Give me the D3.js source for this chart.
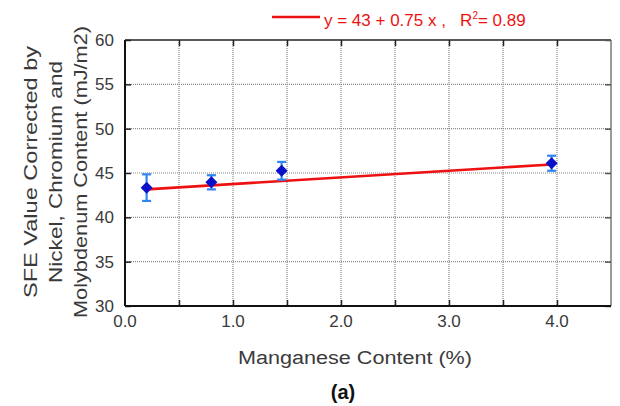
<!DOCTYPE html>
<html>
<head>
<meta charset="utf-8">
<script src="https://cdn.jsdelivr.net/npm/d3@7"></script>
<style>
  html, body { margin: 0; padding: 0; background: #fff; }
  svg { display: block; }
  text { font-family: "Liberation Sans", Arial, sans-serif; }
</style>
</head>
<body>
<svg id="chart" width="620" height="406"></svg>
<script>
// Manganese content (%) and corrected stacking-fault energy (mJ/m2)
const manganese = [0.2, 0.8, 1.45, 3.95];
const sfeValue  = [43.35, 43.95, 45.25, 46.1];
const sfeError  = [1.5, 0.8, 1.0, 0.85];

// Linear fit shown in the legend
const fitIntercept = 43;
const fitSlope = 0.75;
const fitR2 = 0.89;

const xTicks = [0, 1, 2, 3, 4];
const xGrid = [0.5, 1, 1.5, 2, 2.5, 3, 3.5, 4];
const yTicks = [30, 35, 40, 45, 50, 55, 60];

const plot = { left: 125, right: 611, top: 40, bottom: 306 };

const svg = d3.select("#chart");
const x = d3.scaleLinear().domain([0, 4.5]).range([plot.left, plot.right]);
const y = d3.scaleLinear().domain([30, 60]).range([plot.bottom, plot.top]);

const textColor = "#3a3a3a";

// dotted grid
const grid = svg.append("g");
grid.selectAll("line.vx").data(xGrid).join("line")
  .attr("x1", d => x(d)).attr("x2", d => x(d))
  .attr("y1", plot.top).attr("y2", plot.bottom)
  .attr("stroke", "#8a8a8a").attr("stroke-width", 1.2).attr("stroke-dasharray", "1,1");
grid.selectAll("line.hy").data(yTicks.slice(1, -1)).join("line")
  .attr("x1", plot.left).attr("x2", plot.right)
  .attr("y1", d => y(d)).attr("y2", d => y(d))
  .attr("stroke", "#8a8a8a").attr("stroke-width", 1.2).attr("stroke-dasharray", "1,1");

// frame
svg.append("line").attr("x1", plot.left).attr("x2", plot.right).attr("y1", plot.top).attr("y2", plot.top)
  .attr("stroke", "#222").attr("stroke-width", 1.5);
svg.append("line").attr("x1", plot.right).attr("x2", plot.right).attr("y1", plot.top).attr("y2", plot.bottom)
  .attr("stroke", "#7a7a7a").attr("stroke-width", 1.5);

// axes with inner ticks
const xAxisBottom = d3.axisBottom(x).tickValues(xGrid).tickSize(-6).tickFormat("");
const xAxisTop = d3.axisTop(x).tickValues(xGrid).tickSize(-6).tickFormat("");
const yAxisLeft = d3.axisLeft(y).tickValues(yTicks).tickSize(-6).tickFormat("");
const yAxisRight = d3.axisRight(y).tickValues(yTicks).tickSize(-6).tickFormat("");

function styleAxis(g, color) {
  g.select(".domain").remove();
  g.selectAll(".tick line").attr("stroke", color).attr("stroke-width", 1.5);
}
svg.append("g").attr("transform", `translate(0,${plot.bottom})`).call(xAxisBottom).call(g => styleAxis(g, "#222"));
svg.append("g").attr("transform", `translate(0,${plot.top})`).call(xAxisTop).call(g => styleAxis(g, "#222"));
svg.append("g").attr("transform", `translate(${plot.left},0)`).call(yAxisLeft).call(g => styleAxis(g, "#222"));
svg.append("g").attr("transform", `translate(${plot.right},0)`).call(yAxisRight).call(g => styleAxis(g, "#555"));

svg.append("line").attr("x1", plot.left).attr("x2", plot.left).attr("y1", plot.top).attr("y2", plot.bottom)
  .attr("stroke", "#111").attr("stroke-width", 2);
svg.append("line").attr("x1", plot.left).attr("x2", plot.right).attr("y1", plot.bottom).attr("y2", plot.bottom)
  .attr("stroke", "#111").attr("stroke-width", 2);

// tick labels
svg.append("g").selectAll("text").data(xTicks).join("text")
  .attr("x", d => x(d)).attr("y", 327)
  .attr("text-anchor", "middle").attr("font-size", 17).attr("fill", textColor)
  .text(d => d3.format(".1f")(d));
svg.append("g").selectAll("text").data(yTicks).join("text")
  .attr("x", 114).attr("y", d => y(d) + 6)
  .attr("text-anchor", "end").attr("font-size", 17).attr("fill", textColor)
  .text(d => d);

// axis titles
svg.append("text").attr("x", 355).attr("y", 364).attr("text-anchor", "middle")
  .attr("font-size", 18).attr("fill", textColor)
  .attr("textLength", 234).attr("lengthAdjust", "spacingAndGlyphs")
  .text("Manganese Content (%)");

const yTitle = ["SFE Value Corrected by", "Nickel, Chromium and", "Molybdenum Content (mJ/m2)"];
const yTitleLen = [252, 222, 292];
svg.append("g").selectAll("text").data(yTitle).join("text")
  .attr("transform", (d, i) => `translate(${37 + i * 25},172) rotate(-90)`)
  .attr("text-anchor", "middle").attr("font-size", 18).attr("fill", textColor)
  .attr("textLength", (d, i) => yTitleLen[i]).attr("lengthAdjust", "spacingAndGlyphs")
  .text(d => d);

svg.append("text").attr("x", 343).attr("y", 399).attr("text-anchor", "middle")
  .attr("font-family", "Liberation Serif, Times New Roman, serif")
  .attr("font-weight", "bold").attr("font-size", 20).attr("fill", "#111")
  .text("(a)");

// fitted line
const fitX = d3.extent(manganese);
svg.append("line")
  .attr("x1", x(fitX[0])).attr("y1", y(fitIntercept + fitSlope * fitX[0]))
  .attr("x2", x(fitX[1])).attr("y2", y(fitIntercept + fitSlope * fitX[1]))
  .attr("stroke", "#ee1111").attr("stroke-width", 2.6);

// error bars
const pts = manganese.map((m, i) => ({ m, v: sfeValue[i], e: sfeError[i] }));
const eb = svg.append("g").attr("stroke", "#2f86f0").attr("stroke-width", 2.2);
eb.selectAll("line.v").data(pts).join("line")
  .attr("x1", d => x(d.m)).attr("x2", d => x(d.m))
  .attr("y1", d => y(d.v - d.e)).attr("y2", d => y(d.v + d.e));
eb.selectAll("line.top").data(pts).join("line")
  .attr("x1", d => x(d.m) - 4.5).attr("x2", d => x(d.m) + 4.5)
  .attr("y1", d => y(d.v + d.e)).attr("y2", d => y(d.v + d.e));
eb.selectAll("line.bot").data(pts).join("line")
  .attr("x1", d => x(d.m) - 4.5).attr("x2", d => x(d.m) + 4.5)
  .attr("y1", d => y(d.v - d.e)).attr("y2", d => y(d.v - d.e));

// markers: filled square diamonds
svg.append("g").selectAll("path").data(pts).join("path")
  .attr("transform", d => `translate(${x(d.m)},${y(d.v)}) rotate(45)`)
  .attr("d", d3.symbol(d3.symbolSquare, 72))
  .attr("fill", "#0a10c8");

// legend
svg.append("line").attr("x1", 272).attr("x2", 320).attr("y1", 17).attr("y2", 17)
  .attr("stroke", "#ee1111").attr("stroke-width", 2.6);
const leg = svg.append("text").attr("x", 324).attr("y", 26).attr("font-size", 17)
  .attr("fill", "#ee1111").style("white-space", "pre");
leg.append("tspan").text(`y = ${fitIntercept} + ${fitSlope} x ,   R`);
leg.append("tspan").attr("font-size", 10).attr("dy", -7).text("2");
leg.append("tspan").attr("dy", 7).text(`= ${fitR2}`);
</script>
</body>
</html>
